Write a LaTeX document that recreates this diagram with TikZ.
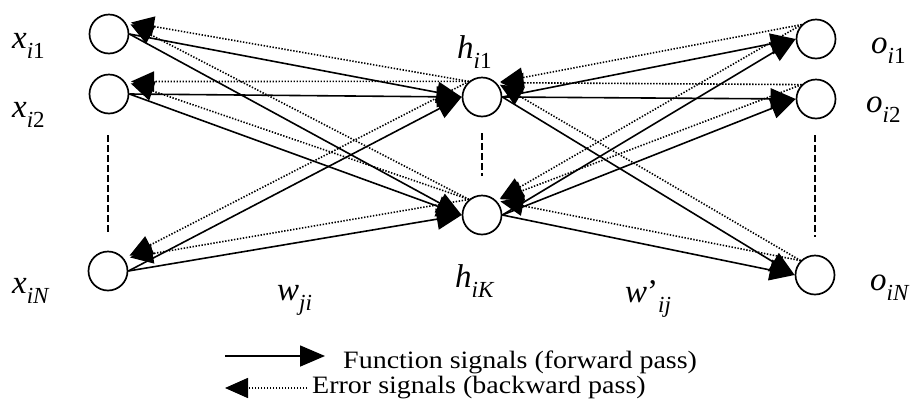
\documentclass[tikz,border=0pt]{standalone}
\usepackage{fontspec}
\setmainfont{Liberation Serif}
\newfontfamily\legfont[FakeStretch=1.12]{Liberation Serif}
\usetikzlibrary{arrows.meta}
\newcommand{\lsub}[1]{\raisebox{-10pt}{\fontsize{23}{23}\selectfont #1}}
\begin{document}
\begin{tikzpicture}[x=1pt,y=-1pt,
 neuron/.style={circle,draw,line width=1.7pt,minimum size=39pt,inner sep=0pt,fill=white},
 fwd/.style={line width=1.6pt,-{Triangle[length=25pt,width=21pt]}},
 bwd/.style={line width=1.6pt,dash pattern=on 1.4pt off 1.6pt,-{Triangle[length=23pt,width=20pt]}},
 vdots/.style={line width=2pt,dash pattern=on 7pt off 3pt},
 lab/.style={anchor=base west,inner sep=0pt,font=\fontsize{33}{33}\selectfont},
 legtext/.style={anchor=base west,inner sep=0pt,font=\legfont\fontsize{25}{25}\selectfont}]
\useasboundingbox (0,0) rectangle (915,400);

% neurons
\node[neuron] (X1) at (109,34) {};
\node[neuron] (X2) at (109,94) {};
\node[neuron] (XN) at (108,271) {};
\node[neuron] (H1) at (482,97) {};
\node[neuron] (HK) at (482,215) {};
\node[neuron] (O1) at (816,39) {};
\node[neuron] (O2) at (816,99) {};
\node[neuron] (ON) at (815,275) {};

% vertical dashed lines
\coordinate (dl1) at (108,135); \coordinate (dl2) at (108,232);
\coordinate (dm1) at (482,133); \coordinate (dm2) at (482,176);
\coordinate (dr1) at (815,135); \coordinate (dr2) at (815,237);
\draw[vdots] (dl1) -- (dl2);
\draw[vdots] (dm1) -- (dm2);
\draw[vdots] (dr1) -- (dr2);

% forward signals
\foreach \s in {X1,X2,XN}{
  \foreach \t in {H1,HK}{
    \draw[fwd] (\s.east) -- (\t.west);
  }
}
\foreach \s in {H1,HK}{
  \foreach \t in {O1,O2,ON}{
    \draw[fwd] (\s.east) -- (\t.west);
  }
}
% backward signals
\foreach \s in {H1,HK}{
  \foreach \t in {X1,X2,XN}{
    \draw[bwd,shorten >=6pt] (\s.130) -- (\t.38);
  }
}
\foreach \s in {O1,O2,ON}{
  \foreach \t in {H1,HK}{
    \draw[bwd,shorten >=4pt] (\s.135) -- (\t.45);
  }
}

% labels
\node[lab] (lx1) at (12,48) {\textit{x}\lsub{\textit{i}1}};
\node[lab] (lx2) at (12,117) {\textit{x}\lsub{\textit{i}2}};
\node[lab] (lxN) at (12,293) {\textit{x}\lsub{\textit{iN}}};
\node[lab] (lh1) at (457,58) {\textit{h}\lsub{\textit{i}1}};
\node[lab] (lhK) at (455,287) {\textit{h}\lsub{\textit{iK}}};
\node[lab] (lw) at (277,300) {\textit{w}\lsub{\textit{ji}}};
\node[lab] (lwp) at (625,302) {\textit{w}'\lsub{\textit{ij}}};
\node[lab] (lo1) at (871,53) {\textit{o}\lsub{\textit{i}1}};
\node[lab] (lo2) at (866,112) {\textit{o}\lsub{\textit{i}2}};
\node[lab] (loN) at (870,290) {\textit{o}\lsub{\textit{iN}}};

% legend
\coordinate (f1) at (225,356); \coordinate (f2) at (325,356);
\draw[fwd] (f1) -- (f2);
\node[legtext] (ft) at (343,368) {Function signals (forward pass)};
\coordinate (e1) at (307,388); \coordinate (e2) at (225,388);
\draw[bwd] (e1) -- (e2);
\node[legtext] (et) at (312,393) {Error signals (backward pass)};
\end{tikzpicture}
\end{document}
